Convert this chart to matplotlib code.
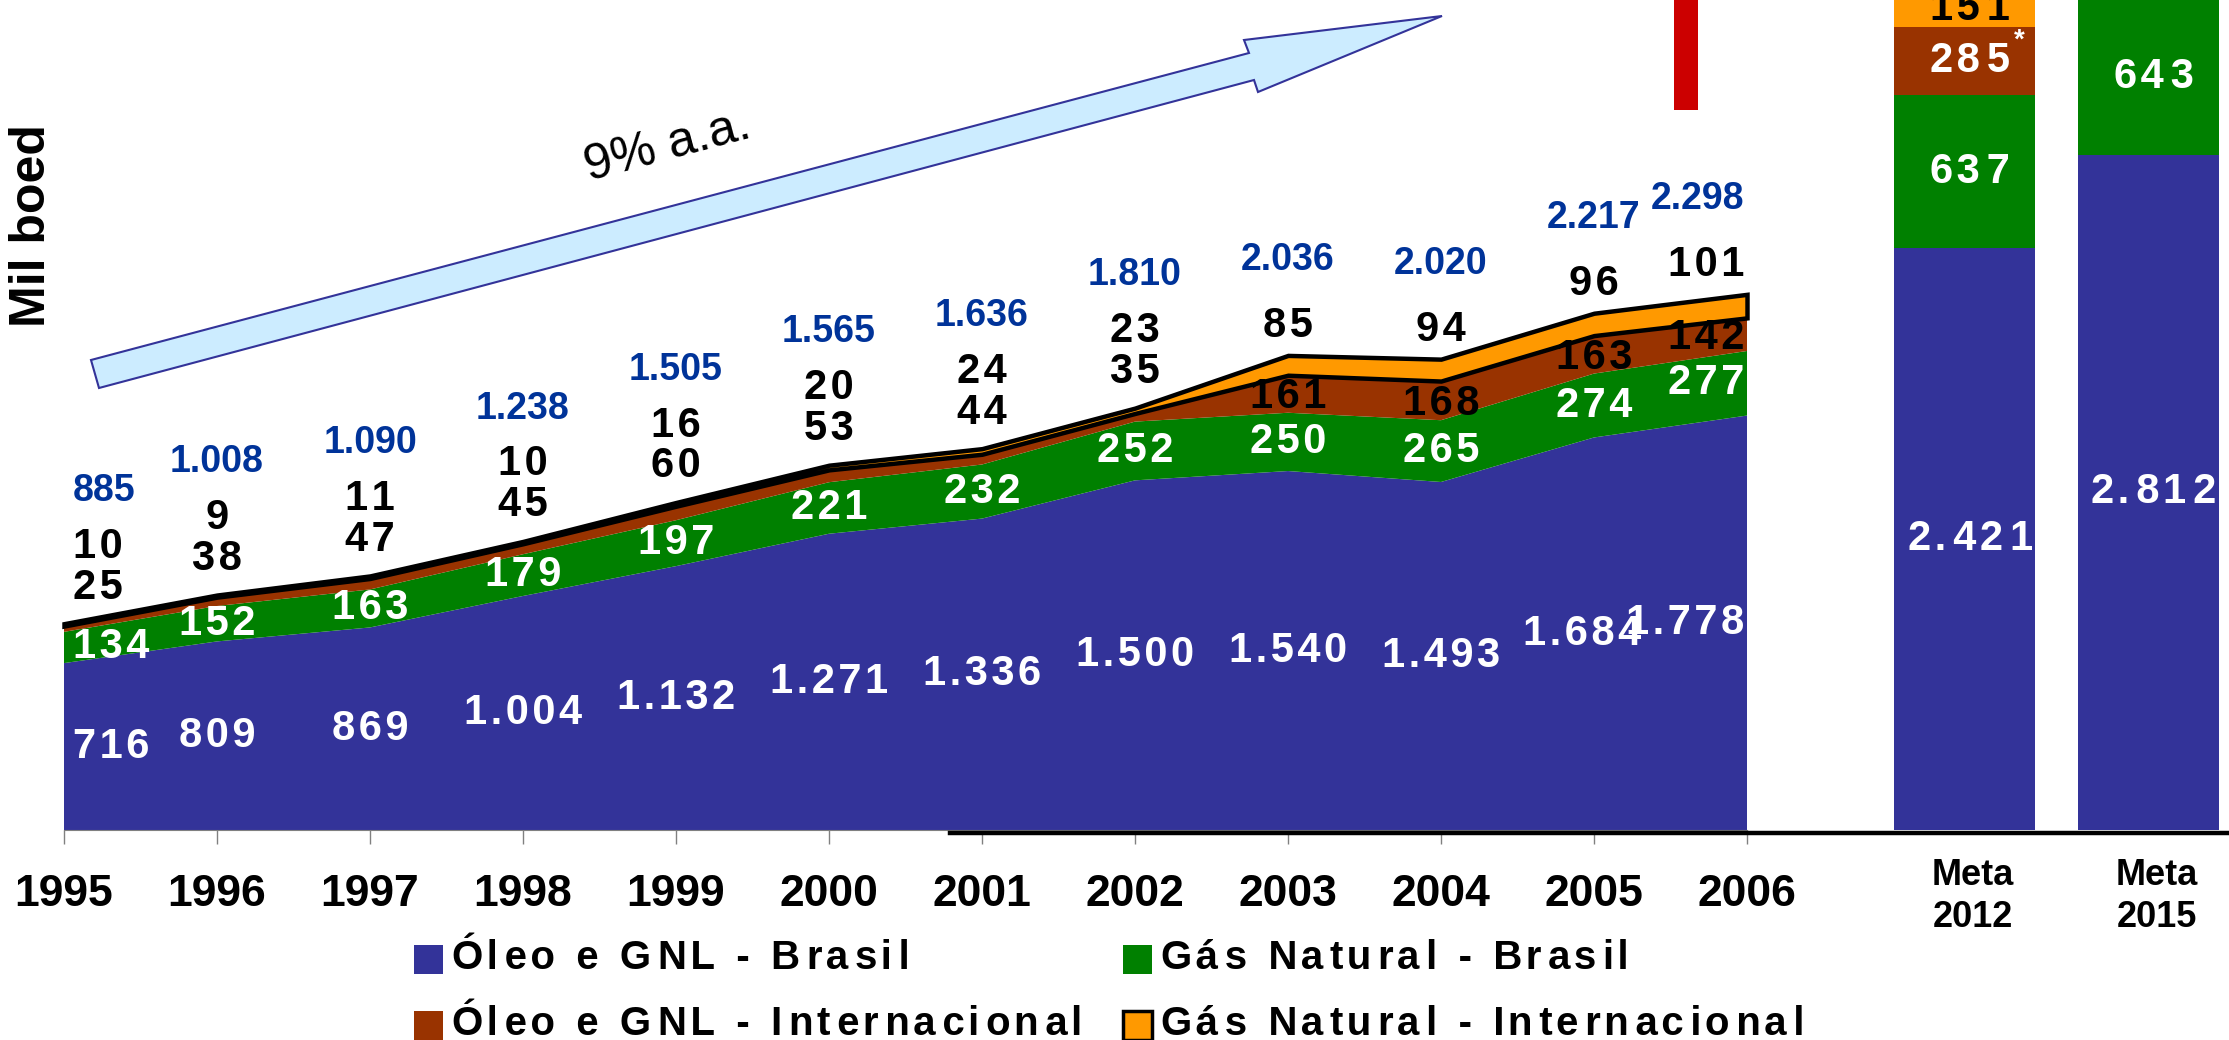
"""Produção Petrobras 1995-2006 e metas 2012/2015 (Mil boed)."""

import matplotlib

matplotlib.use("Agg")

import matplotlib.pyplot as plt
from matplotlib.patches import Polygon, Rectangle
import numpy as np

plt.rcParams["font.family"] = ["Liberation Sans", "DejaVu Sans"]

YEARS = [1995, 1996, 1997, 1998, 1999, 2000, 2001, 2002, 2003, 2004, 2005, 2006]
OLEO_BR = [716, 809, 869, 1004, 1132, 1271, 1336, 1500, 1540, 1493, 1684, 1778]
GAS_BR = [134, 152, 163, 179, 197, 221, 232, 252, 250, 265, 274, 277]
OLEO_INT = [25, 38, 47, 45, 60, 53, 44, 35, 161, 168, 163, 142]
GAS_INT = [10, 9, 11, 10, 16, 20, 24, 23, 85, 94, 96, 101]
TOTALS = [885, 1008, 1090, 1238, 1505, 1565, 1636, 1810, 2036, 2020, 2217, 2298]

META_LABELS = ["Meta\n2012", "Meta\n2015"]
META_OLEO_BR = [2421, 2812]
META_GAS_BR = [637, 643]
META_OLEO_INT = [285, np.nan]
META_GAS_INT = [151, np.nan]

SERIES_NAMES = [
    "Óleo e GNL - Brasil",
    "Gás Natural - Brasil",
    "Óleo e GNL - Internacional",
    "Gás Natural - Internacional",
]
COLORS = ["#333399", "#008000", "#993300", "#FF9900"]
TOTAL_COLOR = "#003399"

# layout in reference pixels (2229 x 1040)
FIG_W, FIG_H = 2229, 1040
BASE_Y = 830
AREA_PX = 0.2331  # pixels per mil boed, history panel
BAR_PX = 0.2402  # pixels per mil boed, target bars
X0_PX, YEAR_PX = 64, 153.0
META_CENTER_PX = [1964, 2148]
META_WIDTH_PX = 141

HAIR = "\u200a"


def spaced(text):
    return HAIR.join(text)


def wide_spaced(text):
    # roughly 1.5 hair spaces between letters
    out = text[0]
    for k, ch in enumerate(text[1:]):
        out += HAIR * (2 if k % 2 else 1) + ch
    return out


def fmt(v):
    return f"{v:,}".replace(",", ".")


def px_to_fig(x, y):
    return x / FIG_W, 1 - y / FIG_H


fig = plt.figure(figsize=(FIG_W / 100, FIG_H / 100), dpi=100)
rect = [0, 1 - BASE_Y / FIG_H, 1, BASE_Y / FIG_H]
x_left = YEARS[0] - X0_PX / YEAR_PX
x_right = YEARS[0] + (FIG_W - X0_PX) / YEAR_PX

ax = fig.add_axes(rect)
ax.set_xlim(x_left, x_right)
ax.set_ylim(0, BASE_Y / AREA_PX)

years = np.array(YEARS)
layers = [np.array(s, dtype=float) for s in (OLEO_BR, GAS_BR, OLEO_INT, GAS_INT)]
bottom = np.zeros(len(YEARS))
bottoms = []
for i, (vals, color) in enumerate(zip(layers, COLORS)):
    bottoms.append(bottom.copy())
    if i == 3:
        ax.fill_between(years, bottom, bottom + vals, facecolor=color,
                        edgecolor="black", linewidth=3.2, joinstyle="miter", zorder=3)
    else:
        ax.fill_between(years, bottom, bottom + vals, facecolor=color,
                        edgecolor="none", linewidth=0, zorder=2)
    bottom = bottom + vals
stack_top = bottom

# axis styling
ax.set_xticks(YEARS)
ax.set_xticklabels([str(y) for y in YEARS], fontsize=32, fontweight="bold")
ax.tick_params(axis="x", length=10, width=1, color="#808080", pad=22)
ax.set_yticks([])
for side in ("top", "right", "left"):
    ax.spines[side].set_visible(False)
ax.spines["bottom"].set_bounds(YEARS[0], YEARS[-1])
ax.spines["bottom"].set_color("#808080")
ax.patch.set_visible(False)

# thick baseline under the later years and targets
ax.plot([2000.79, x_right + 1], [-3 / AREA_PX, -3 / AREA_PX], color="black",
        linewidth=3.2, clip_on=False, zorder=4)

# value labels on the area chart
last = len(YEARS) - 1
for i, yr in enumerate(YEARS):
    if i == 0:
        x, ha = yr + 0.06, "left"
    elif i == last:
        x, ha = yr - 0.02, "right"
    else:
        x, ha = yr, "center"
    s = stack_top[i]
    kw = dict(ha=ha, va="center", fontweight="bold", zorder=6)
    x_blue = x - 0.08 if i == last - 1 else x
    ax.text(x_blue, OLEO_BR[i] / 2, spaced(fmt(OLEO_BR[i])), color="white",
            fontsize=30, **kw)
    ax.text(x, OLEO_BR[i] + GAS_BR[i] / 2, spaced(fmt(GAS_BR[i])), color="white",
            fontsize=30, **kw)
    if OLEO_INT[i] >= 120:
        y_oi = bottoms[2][i] + OLEO_INT[i] / 2 - 15
        y_gi = s + 125
        y_tot = s + 410
    else:
        y_oi = s + 155
        y_gi = s + 330
        y_tot = s + 570
    ax.text(x, y_oi, spaced(fmt(OLEO_INT[i])), color="black", fontsize=30, **kw)
    ax.text(x, y_gi, spaced(fmt(GAS_INT[i])), color="black", fontsize=30, **kw)
    ax.text(x, y_tot, fmt(TOTALS[i]), color=TOTAL_COLOR, fontsize=27, **kw)

# red marker bar at top
ax.add_patch(Rectangle((2005.52, (BASE_Y - 110) / AREA_PX), 0.157, 1000,
                       facecolor="#CC0000", edgecolor="none", zorder=2))

# target bars
bx = fig.add_axes(rect)
bx.set_xlim(x_left, x_right)
bx.set_ylim(0, BASE_Y / BAR_PX)
bx.patch.set_visible(False)
for side in bx.spines.values():
    side.set_visible(False)
bx.set_yticks([])
meta_x = [YEARS[0] + (c - X0_PX) / YEAR_PX for c in META_CENTER_PX]
meta_w = META_WIDTH_PX / YEAR_PX
meta_series = [np.array(s, dtype=float) for s in
               (META_OLEO_BR, META_GAS_BR, META_OLEO_INT, META_GAS_INT)]
mb = np.zeros(len(META_LABELS))
text_colors = ["white", "white", "white", "black"]
for vals, color, tc in zip(meta_series, COLORS, text_colors):
    bx.bar(meta_x, vals, width=meta_w, bottom=mb, color=color, linewidth=0)
    for j, v in enumerate(vals):
        if np.isnan(v):
            continue
        bx.text(meta_x[j] + 0.04, mb[j] + v / 2, wide_spaced(fmt(int(v))), color=tc,
                fontsize=30, fontweight="bold", ha="center", va="center")
    mb = mb + np.nan_to_num(vals)
bx.text(meta_x[0] + 0.36, META_OLEO_BR[0] + META_GAS_BR[0] + META_OLEO_INT[0] * 0.8,
        "*", color="white", fontsize=20, fontweight="bold", ha="center", va="center")
bx.set_xticks([m + 0.06 for m in meta_x])
bx.set_xticklabels(META_LABELS, fontsize=26, fontweight="bold", linespacing=1.25)
bx.tick_params(axis="x", length=0, pad=20)

# growth arrow
arrow_px = [(91, 360), (1249, 53), (1244, 40), (1442, 16), (1258, 92),
            (1254, 80), (99, 388)]
fig.add_artist(Polygon([px_to_fig(x, y) for x, y in arrow_px], closed=True,
                       transform=fig.transFigure, facecolor="#CCECFF",
                       edgecolor="#333399", linewidth=1.5))
fig.text(*px_to_fig(668, 146), "9% a.a.", fontsize=36, rotation=15,
         ha="center", va="center", rotation_mode="anchor")

fig.text(*px_to_fig(32, 226), "Mil boed", fontsize=36, fontweight="bold",
         rotation=90, ha="center", va="center")

# legend
legend_pos = [(414, 945), (1123, 945), (414, 1011), (1123, 1011)]
for (lx, ly), name, color, k in zip(legend_pos, SERIES_NAMES, COLORS, range(4)):
    fx, fy = px_to_fig(lx, ly + 29)
    fig.add_artist(Rectangle((fx, fy), 29 / FIG_W, 29 / FIG_H, transform=fig.transFigure,
                             facecolor=color,
                             edgecolor="black" if k == 3 else "none",
                             linewidth=2.5 if k == 3 else 0))
    fig.text(*px_to_fig(lx + 38, ly + 13), wide_spaced(name), fontsize=29,
             fontweight="bold", ha="left", va="center")

fig.savefig("out.png", dpi=100)
